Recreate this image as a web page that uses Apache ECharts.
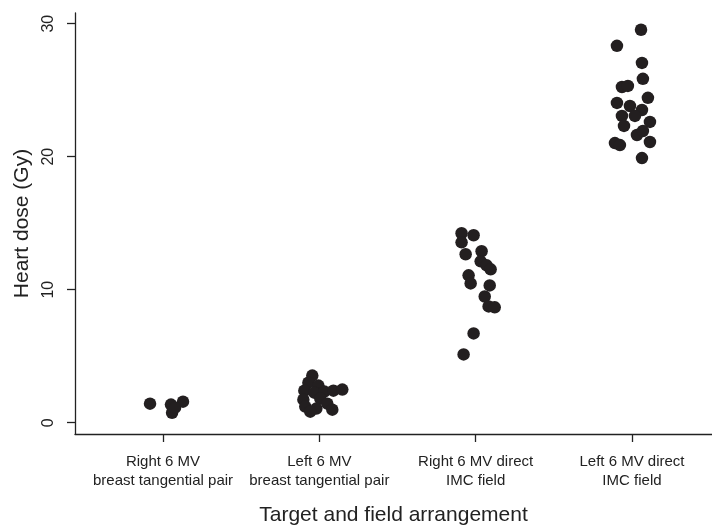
<!DOCTYPE html>
<html>
<head>
<meta charset="utf-8">
<script src="https://cdn.jsdelivr.net/npm/echarts@6/dist/echarts.min.js"></script>
<style>html,body{margin:0;padding:0;background:#fff;}#c{width:712px;height:526px;}</style>
</head>
<body>
<div id="c"></div>
<script>
const categories = [
  'Right 6 MV\nbreast tangential pair',
  'Left 6 MV\nbreast tangential pair',
  'Right 6 MV direct\nIMC field',
  'Left 6 MV direct\nIMC field'
];
const yTicks = [0, 10, 20, 30];

// horizontal jitter (category units) and heart dose (Gy) per group
const jitter1 = [-0.083, 0.051, 0.128, 0.058, 0.077];
const dose1   = [1.43, 1.36, 1.58, 0.75, 1.13];

const jitter2 = [-0.045, -0.070, -0.006, -0.096, -0.032, 0.032, 0.090, 0.147, -0.102, 0.006, 0.051, -0.090, -0.019, 0.083, -0.058];
const dose2   = [3.54, 3.01, 2.79, 2.41, 2.26, 2.34, 2.41, 2.49, 1.73, 1.81, 1.43, 1.21, 1.06, 0.98, 0.83];

const jitter3 = [-0.090, -0.013, -0.090, -0.064, 0.038, 0.032, 0.070, 0.096, -0.045, -0.032, 0.090, 0.058, 0.083, 0.122, -0.013, -0.077];
const dose3   = [14.24, 14.09, 13.56, 12.66, 12.89, 12.13, 11.83, 11.53, 11.08, 10.47, 10.32, 9.49, 8.74, 8.67, 6.71, 5.13];

const jitter4 = [0.058, -0.096, 0.064, 0.070, -0.064, -0.026, -0.096, -0.013, 0.102, 0.064, -0.064, 0.019, 0.115, -0.051, 0.032, 0.070, -0.109, -0.077, 0.115, 0.064];
const dose4   = [29.54, 28.33, 27.05, 25.85, 25.24, 25.32, 24.04, 23.81, 24.42, 23.51, 23.06, 23.06, 22.61, 22.31, 21.63, 21.93, 21.02, 20.87, 21.10, 19.89];

const groups = [[jitter1, dose1], [jitter2, dose2], [jitter3, dose3], [jitter4, dose4]];
const points = [];
groups.forEach((g, i) => {
  g[0].forEach((j, k) => points.push([i + 1 + j, g[1][k]]));
});

const txt = '#222';
const font = 'Liberation Sans, Arial, sans-serif';
const chart = echarts.init(document.getElementById('c'));
chart.setOption({
  animation: false,
  grid: { left: 75, right: 0, top: 13, bottom: 92, outerBoundsMode: 'none', containLabel: false },
  xAxis: {
    type: 'value', min: 0.437, max: 4.512,
    name: 'Target and field arrangement', nameLocation: 'middle', nameGap: 71,
    nameTextStyle: { fontSize: 21, color: txt, fontFamily: font },
    axisLine: { show: true, onZero: false, lineStyle: { color: txt, width: 1.3 } },
    axisTick: { show: true, customValues: [1, 2, 3, 4], length: 8, lineStyle: { color: txt, width: 1.3 } },
    axisLabel: { customValues: [1, 2, 3, 4], formatter: v => categories[Math.round(v) - 1], fontSize: 15, lineHeight: 19, color: txt, fontFamily: font, margin: 18, showMinLabel: true, showMaxLabel: true, hideOverlap: false },
    splitLine: { show: false }
  },
  yAxis: {
    type: 'value', min: -0.85, max: 30.8,
    name: 'Heart dose (Gy)', nameLocation: 'middle', nameGap: 41, nameRotate: 90,
    nameTextStyle: { fontSize: 21, color: txt, fontFamily: font },
    axisLine: { show: true, onZero: false, lineStyle: { color: txt, width: 1.3 } },
    axisTick: { show: true, customValues: yTicks, length: 8, lineStyle: { color: txt, width: 1.3 } },
    axisLabel: { customValues: yTicks, rotate: 90, fontSize: 16, color: txt, fontFamily: font, margin: 18, showMinLabel: true, showMaxLabel: true, hideOverlap: false },
    splitLine: { show: false }
  },
  series: [{
    type: 'scatter', data: points, symbolSize: 12.5,
    itemStyle: { color: '#231f20', opacity: 1 }
  }]
});
</script>
</body>
</html>
